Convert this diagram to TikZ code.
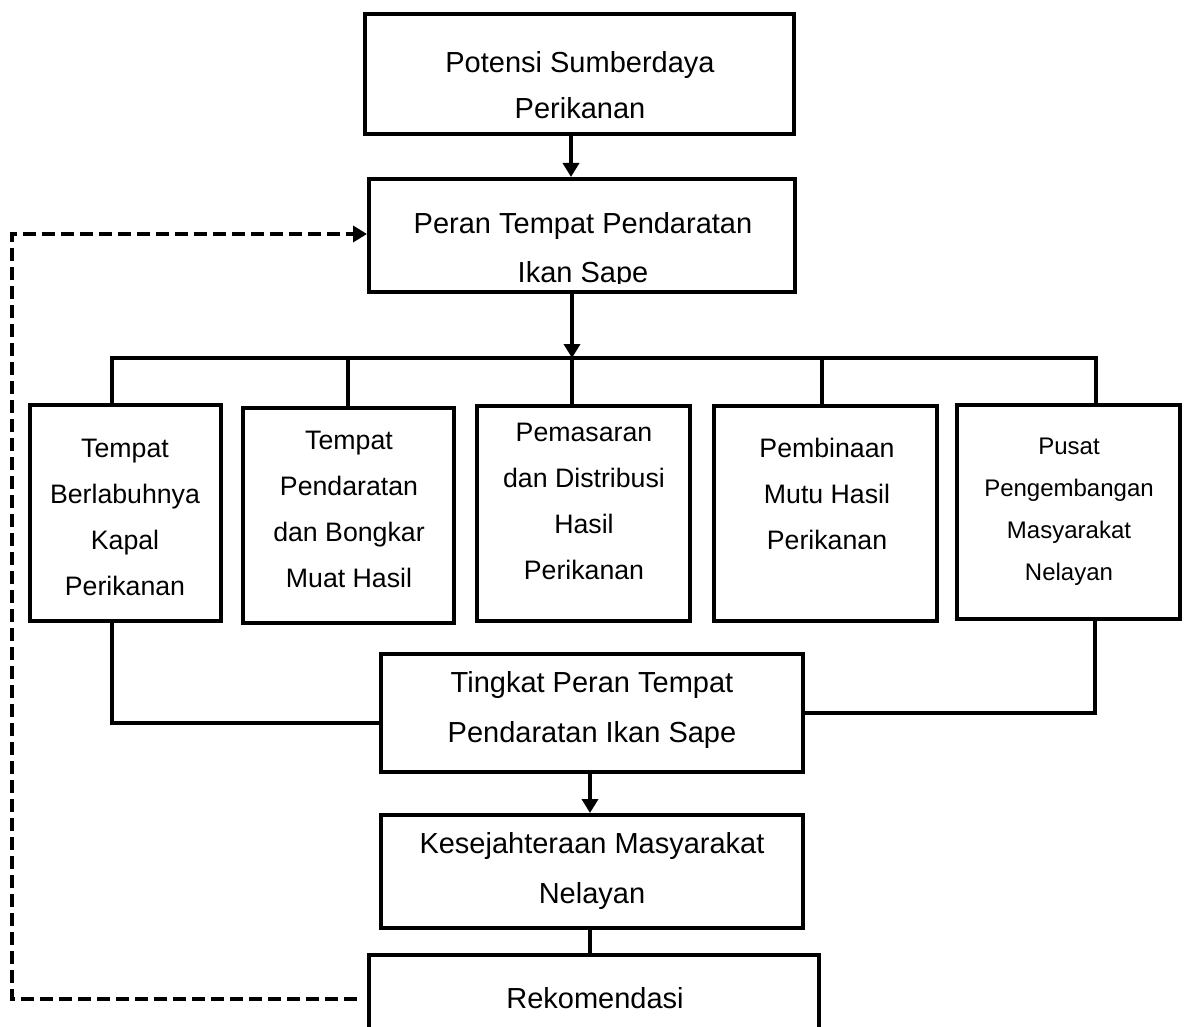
\documentclass[tikz,border=0pt]{standalone}
\usepackage{fontspec}
\setmainfont{Liberation Sans}
\usetikzlibrary{arrows.meta,fit}
\tikzset{
  box/.style={draw, line width=4pt, inner sep=0pt, rectangle},
  conn/.style={line width=3.5pt},
  arr/.style={conn, -{Triangle[length=14pt,width=16pt]}},
  dsh/.style={line width=3.5pt, dash pattern=on 13pt off 6pt, -{Triangle[length=14pt,width=16pt]}},
  bigtxt/.style={font=\fontsize{29}{50}\selectfont, align=center, inner sep=0pt},
  midtxt/.style={font=\fontsize{26.7}{46}\selectfont, align=center, inner sep=0pt},
  smtxt/.style={font=\fontsize{24}{42}\selectfont, align=center, inner sep=0pt}
}
\begin{document}
\begin{tikzpicture}[x=1pt,y=-1pt]
\useasboundingbox (0,0) rectangle (1184,1027);
\clip (0,0) rectangle (1184,1027);
\fill[white] (0,0) rectangle (1184,1027);

% boxes
\node[box, fit={(365,14) (794,134)}] (t0) {};
\node[box, fit={(369,179) (795,292)}] (b2) {};
\node[box, fit={(30,405) (221,621)}] (c1) {};
\node[box, fit={(243,408) (454,623)}] (c2) {};
\node[box, fit={(477,406) (690,621)}] (c3) {};
\node[box, fit={(714,406) (937,621)}] (c4) {};
\node[box, fit={(957,405) (1180,619)}] (c5) {};
\node[box, fit={(381,654) (803,772)}] (tk) {};
\node[box, fit={(381,815) (803,928)}] (ks) {};
\node[box, fit={(369,955) (819,1080)}] (rk) {};

% texts
\node[bigtxt, font=\fontsize{29}{46}\selectfont] (t0t) at (580,85) {Potensi Sumberdaya\\Perikanan};
\begin{scope}
\clip (371,181) rectangle (793,284);
\node[bigtxt, font=\fontsize{29}{49}\selectfont] (b2t) at (583,250.5) {Peran Tempat Pendaratan\\Ikan Sape};
\end{scope}
\node[midtxt] (c1t) at (125,517.5) {Tempat\\Berlabuhnya\\Kapal\\Perikanan};
\node[midtxt] (c2t) at (349,509) {Tempat\\Pendaratan\\dan Bongkar\\Muat Hasil};
\node[midtxt] (c3t) at (584,501) {Pemasaran\\dan Distribusi\\Hasil\\Perikanan};
\node[midtxt] (c4t) at (827,494) {Pembinaan\\Mutu Hasil\\Perikanan};
\node[smtxt] (c5t) at (1069,511.5) {Pusat\\Pengembangan\\Masyarakat\\Nelayan};
\node[bigtxt] (tkt) at (592,710) {Tingkat Peran Tempat\\Pendaratan Ikan Sape};
\node[bigtxt] (kst) at (592,870.5) {Kesejahteraan Masyarakat\\Nelayan};
\node[bigtxt] (rkt) at (595,998) {Rekomendasi};

% helper coordinates
\coordinate (a1) at (571,0);
\coordinate (jm) at (572,358);
\coordinate (j1) at (112,358);
\coordinate (j2) at (348,358);
\coordinate (j3) at (572,358);
\coordinate (j4) at (822,358);
\coordinate (j5) at (1096,358);
\coordinate (l1) at (112,723);
\coordinate (r1) at (1095,713);
\coordinate (a3) at (590,0);
\coordinate (d0) at (357,999);
\coordinate (d1) at (12,999);
\coordinate (d2) at (12,234);

% connectors
\draw[arr] (a1 |- t0.south) -- (a1 |- b2.north);
\draw[arr] (jm |- b2.south) -- (jm);
\draw[conn, line cap=rect] (j1) -- (j5);
\draw[conn] (j1) -- (j1 |- c1.north);
\draw[conn] (j2) -- (j2 |- c2.north);
\draw[conn] (j3) -- (j3 |- c3.north);
\draw[conn] (j4) -- (j4 |- c4.north);
\draw[conn] (j5) -- (j5 |- c5.north);
\draw[conn] (l1 |- c1.south) -- (l1) -- (l1 -| tk.west);
\draw[conn] (r1 |- c5.south) -- (r1) -- (r1 -| tk.east);
\draw[arr] (a3 |- tk.south) -- (a3 |- ks.north);
\draw[conn] (a3 |- ks.south) -- (a3 |- rk.north);
\draw[dsh] (d0) -- (d1) -- (d2) -- (d2 -| b2.west);
\end{tikzpicture}
\end{document}
